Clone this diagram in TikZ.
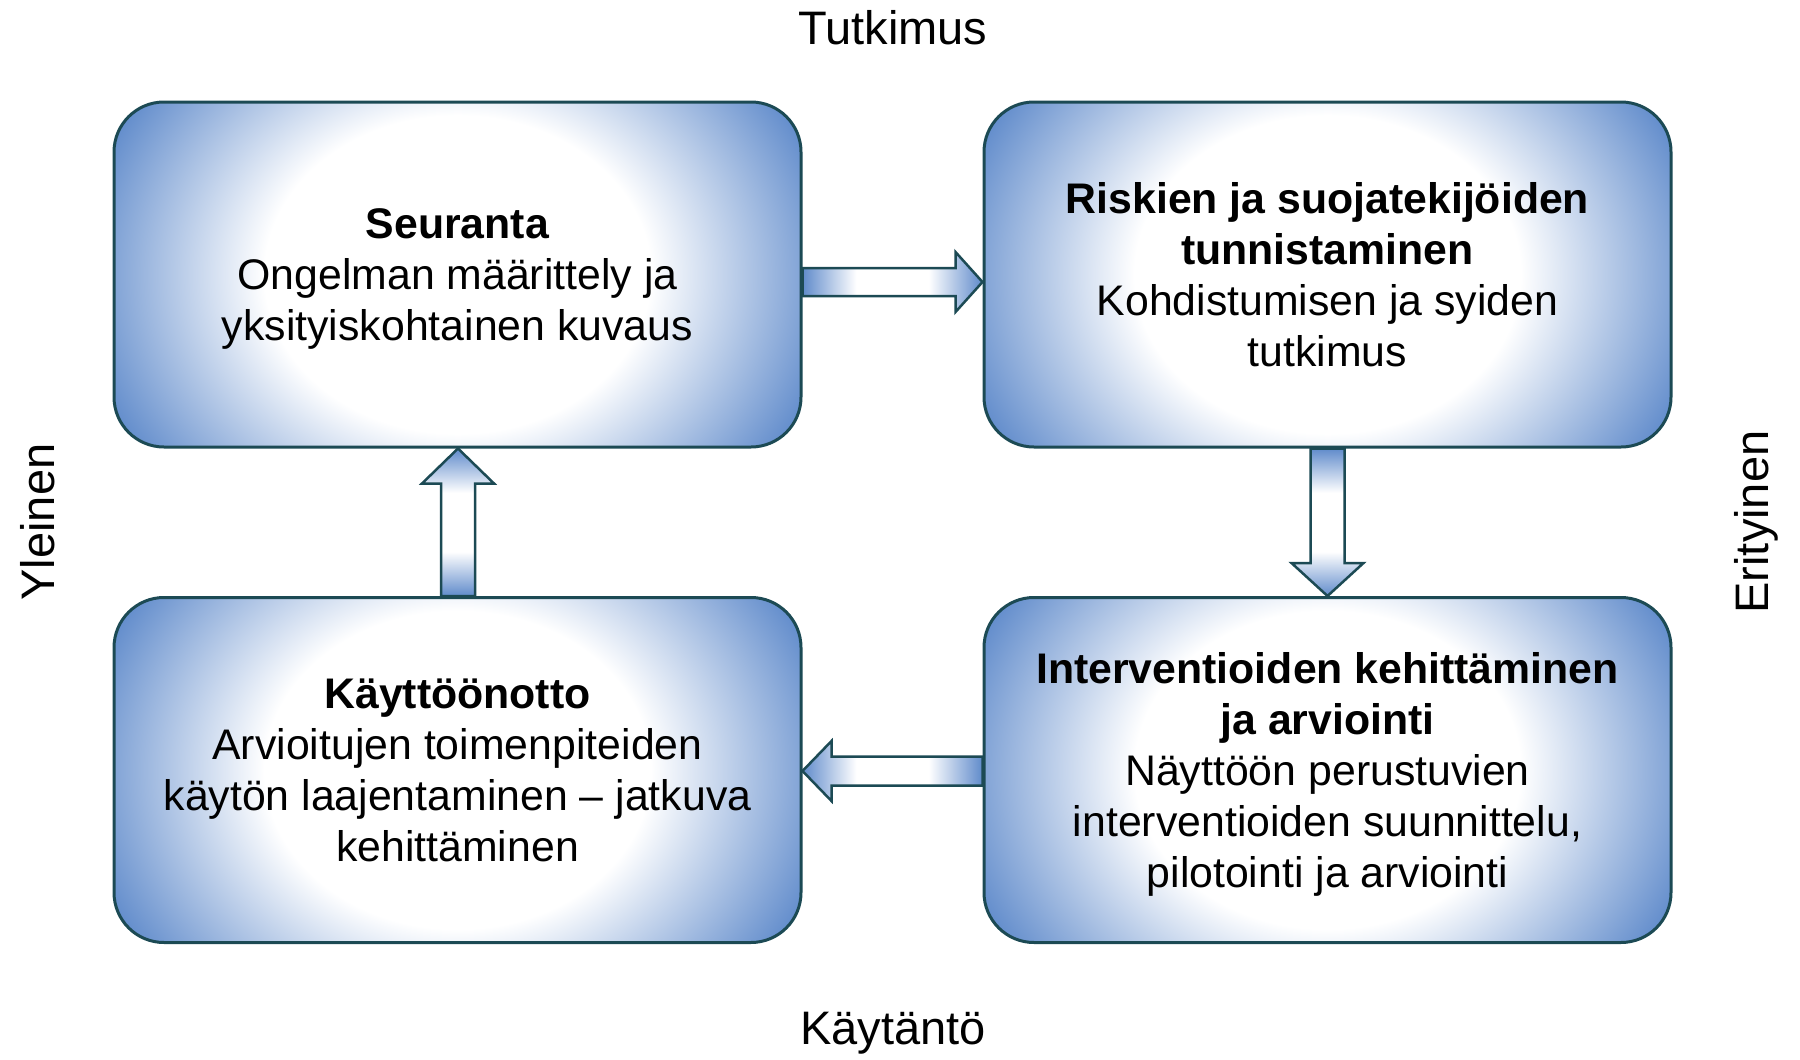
\documentclass[tikz,border=0pt]{standalone}
\usepackage{fontspec}
\setmainfont{Liberation Sans}
\usetikzlibrary{calc}
\definecolor{bblue}{RGB}{96,139,203}
\definecolor{bord}{RGB}{28,74,84}
\pgfdeclarehorizontalshading{arrowshade}{100bp}{color(0bp)=(bblue); color(25bp)=(bblue); color(40bp)=(white); color(60bp)=(white); color(75bp)=(bblue); color(100bp)=(bblue)}
\pgfdeclareradialshading{boxshade}{\pgfpoint{0bp}{0bp}}{color(0bp)=(white); color(12.5bp)=(white); color(25bp)=(bblue); color(50bp)=(bblue)}
\tikzset{
  box/.style={rectangle, rounded corners=25pt, draw=bord, line width=1.5pt,
    minimum width=343.5pt, minimum height=172.5pt, align=center, inner sep=0pt,
    font=\fontsize{21.4}{25.5}\selectfont, text depth=-6pt,
    path picture={\fill[bblue] (path picture bounding box.south west) rectangle (path picture bounding box.north east);
      \shade[shading=boxshade] (path picture bounding box.center) ellipse [x radius=193pt, y radius=159pt];}},
  fatarrow/.style={draw=bord, line width=1.25pt, line join=miter, shading=arrowshade},
  side/.style={font=\fontsize{23.5}{28}\selectfont, inner sep=0pt}
}
\begin{document}
\begin{tikzpicture}[x=0.5pt,y=-0.5pt]
\useasboundingbox (0,0) rectangle (1800,1060);
\node[box] (TL) at (457.5,274.5) {\textbf{Seuranta}\\Ongelman määrittely ja\\yksityiskohtainen kuvaus};
\node[box] (TR) at (1327.5,274.5) {\textbf{Riskien ja suojatekijöiden}\\\textbf{tunnistaminen}\\Kohdistumisen ja syiden\\tutkimus};
\node[box] (BL) at (457.5,770) {\textbf{Käyttöönotto}\\Arvioitujen toimenpiteiden\\käytön laajentaminen -- jatkuva\\kehittäminen};
\node[box] (BR) at (1327.5,770) {\textbf{Interventioiden kehittäminen}\\\textbf{ja arviointi}\\Näyttöön perustuvien\\interventioiden suunnittelu,\\pilotointi ja arviointi};

% right arrow TL -> TR
\coordinate (r1s) at ($(TL.east)+(0,7.5)$);
\coordinate (r1e) at ($(TR.west)+(0,7.5)$);
\shade[fatarrow] ($(r1s)+(0,-14)$) -- ($(r1e)+(-27,-14)$) -- ($(r1e)+(-27,-30)$) -- (r1e)
  -- ($(r1e)+(-27,30)$) -- ($(r1e)+(-27,14)$) -- ($(r1s)+(0,14)$) -- cycle;

% down arrow TR -> BR
\coordinate (d1s) at (TR.south);
\coordinate (d1e) at (BR.north);
\shade[fatarrow, shading angle=90] ($(d1s)+(-17,0)$) -- ($(d1e)+(-17,-33)$) -- ($(d1e)+(-36,-33)$) -- (d1e)
  -- ($(d1e)+(36,-33)$) -- ($(d1e)+(17,-33)$) -- ($(d1s)+(17,0)$) -- cycle;

% left arrow BR -> BL
\coordinate (l1s) at ($(BR.west)+(0,1)$);
\coordinate (l1e) at ($(BL.east)+(0,1)$);
\shade[fatarrow] ($(l1s)+(0,-14.5)$) -- ($(l1e)+(29,-14.5)$) -- ($(l1e)+(29,-30)$) -- (l1e)
  -- ($(l1e)+(29,30)$) -- ($(l1e)+(29,14.5)$) -- ($(l1s)+(0,14.5)$) -- cycle;

% up arrow BL -> TL
\coordinate (u1s) at ($(BL.north)+(0.5,0)$);
\coordinate (u1e) at ($(TL.south)+(0.5,0)$);
\shade[fatarrow, shading angle=90] ($(u1s)+(-17,0)$) -- ($(u1e)+(-17,35)$) -- ($(u1e)+(-36,35)$) -- (u1e)
  -- ($(u1e)+(36,35)$) -- ($(u1e)+(17,35)$) -- ($(u1s)+(17,0)$) -- cycle;

\node[side] (top) at (893,28) {Tutkimus};
\node[side] (bot) at (893,1033) {Käytäntö};
\node[side, rotate=90] (left) at (38,522) {Yleinen};
\node[side, rotate=90] (right) at (1756,522) {Erityinen};
\end{tikzpicture}
\end{document}
